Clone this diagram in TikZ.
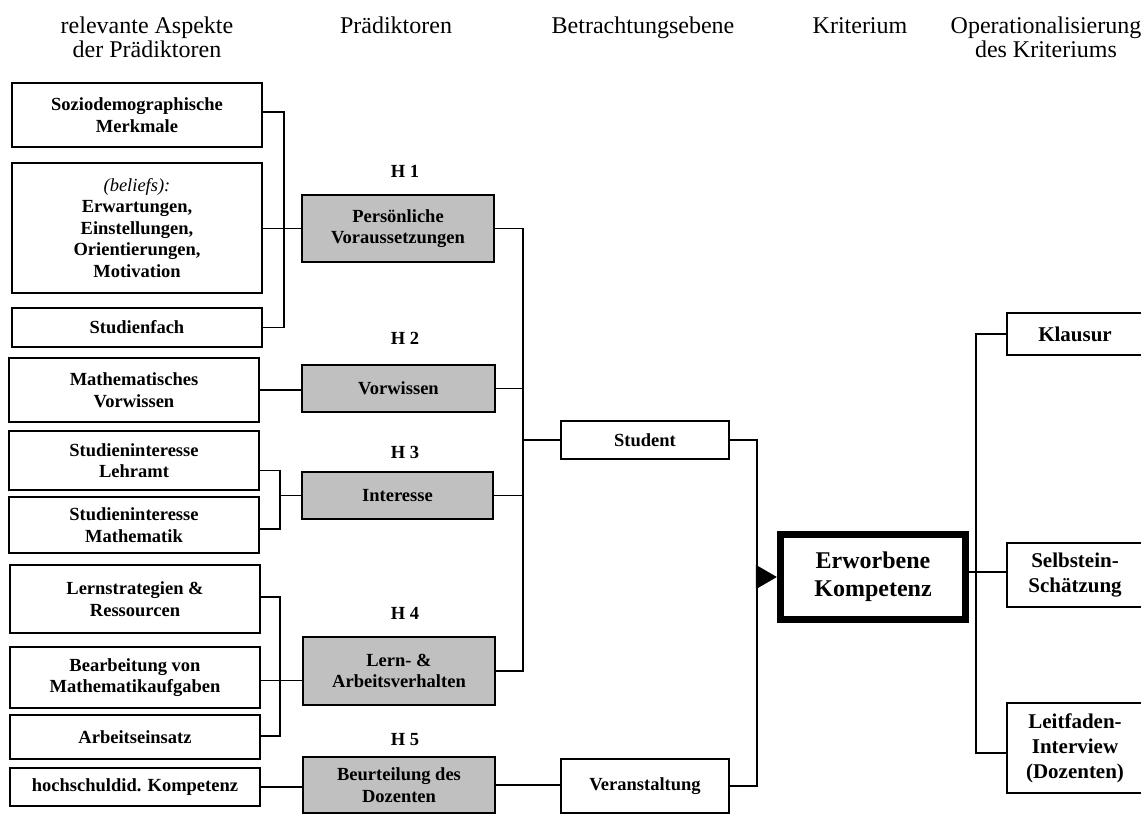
\documentclass[tikz,border=0pt]{standalone}
\usepackage{fontspec}
\setmainfont{Liberation Serif}
\usetikzlibrary{arrows.meta}
\definecolor{boxgray}{RGB}{192,192,192}
\begin{document}
\begin{tikzpicture}[x=1pt,y=-1pt,
  hdr/.style={font=\fontsize{24}{24}\selectfont, align=center, inner sep=0pt},
  abox/.style={draw, line width=2pt, align=center, inner sep=2pt,
    font=\fontsize{18.5}{21.5}\selectfont\bfseries},
  pbox/.style={abox, fill=boxgray},
  rbox/.style={abox, font=\fontsize{21}{25}\selectfont\bfseries},
  hlab/.style={font=\fontsize{18.5}{21}\selectfont\bfseries, inner sep=0pt},
  conn/.style={line width=1.5pt}]
\useasboundingbox (0,0) rectangle (1141,817);

% headers
\node[hdr] (t1) at (147,37) {relevante Aspekte\\der Prädiktoren};
\node[hdr, anchor=base] (t2) at (396,33) {Prädiktoren};
\node[hdr, anchor=base] (t3) at (643,33) {Betrachtungsebene};
\node[hdr, anchor=base] (t4) at (860,33) {Kriterium};
\node[hdr] (t5) at (1046,37) {Operationalisierung\\des Kriteriums};

% left column
\node[abox, minimum width=250, minimum height=64] (soz) at (137,115) {Soziodemographische\\Merkmale};
\node[abox, minimum width=250, minimum height=130] (bel) at (137,228) {{\normalfont\itshape (beliefs):}\\Erwartungen,\\Einstellungen,\\Orientierungen,\\Motivation};
\node[abox, minimum width=250, minimum height=39] (stf) at (137,327.5) {Studienfach};
\node[abox, minimum width=250, minimum height=64] (mvw) at (134,390) {Mathematisches\\Vorwissen};
\node[abox, minimum width=250, minimum height=59] (sil) at (134,460.5) {Studieninteresse\\Lehramt};
\node[abox, minimum width=250, minimum height=56] (sim) at (134,525) {Studieninteresse\\Mathematik};
\node[abox, minimum width=250, minimum height=68] (lrs) at (135,599) {Lernstrategien \&\\Ressourcen};
\node[abox, minimum width=250, minimum height=61] (bma) at (135,677.5) {Bearbeitung von\\Mathematikaufgaben};
\node[abox, minimum width=250, minimum height=44] (aes) at (135,737) {Arbeitseinsatz};
\node[abox, minimum width=250, minimum height=38] (hsk) at (135,787) {hochschuldid. Kompetenz};

% predictors
\node[hlab] (l1) at (405,171) {H 1};
\node[pbox, minimum width=192, minimum height=67] (pv) at (398,228.5) {Persönliche\\Voraussetzungen};
\node[hlab] (l2) at (405,338) {H 2};
\node[pbox, minimum width=193, minimum height=47] (vw) at (398.5,388.5) {Vorwissen};
\node[hlab] (l3) at (405,452) {H 3};
\node[pbox, minimum width=191, minimum height=47] (int) at (397.5,495.5) {Interesse};
\node[hlab] (l4) at (405,613) {H 4};
\node[pbox, minimum width=192, minimum height=68] (law) at (399,671) {Lern- \&\\Arbeitsverhalten};
\node[hlab] (l5) at (405,740) {H 5};
\node[pbox, minimum width=192, minimum height=56] (bdz) at (399,785) {Beurteilung des\\Dozenten};

% level
\node[abox, minimum width=168, minimum height=38] (std) at (645,440) {Student};
\node[abox, minimum width=168, minimum height=54] (ver) at (645,786) {Veranstaltung};

% criterion
\node[draw, line width=7.3pt, minimum width=185, minimum height=85, align=center,
  font=\fontsize{24}{28}\selectfont\bfseries] (erw) at (873,577) {Erworbene\\Kompetenz};

% operationalisation
\node[rbox, minimum width=136, minimum height=42] (kla) at (1075,334) {Klausur};
\node[rbox, minimum width=136, minimum height=64] (sel) at (1075,575) {Selbstein-\\Schätzung};
\node[rbox, minimum width=136, minimum height=90] (lei) at (1075,748) {Leitfaden-\\Interview\\(Dozenten)};

% connectors left
\draw[conn] ([yshift=3]soz.east) -- ++(21,0) |- (stf.east);
\draw[conn] (bel.east |- pv.west) -- (pv.west);
\draw[conn] (mvw.east) -- (mvw.east -| vw.west);
\draw[conn] ([yshift=-10]sil.east) -- ++(20,0) |- ([yshift=-4]sim.east);
\draw[conn] (sil.east -| 279,0) ++(0,35) -- (int.west);
\draw[conn] ([yshift=2]lrs.east) -- ++(19,0) |- ([yshift=1]aes.east);
\draw[conn] ([yshift=-3]bma.east) -- ([yshift=-3]bma.east -| law.west);
\draw[conn] (hsk.east) -- (hsk.east -| bdz.west);

% predictors to level
\coordinate (bus) at (523,0);
\draw[conn] (pv.east) -| (bus |- law.east) -- (law.east);
\draw[conn] (vw.east) -- (vw.east -| bus);
\draw[conn] (int.east) -- (int.east -| bus);
\draw[conn] (std.west -| bus) -- (std.west);
\draw[conn] (bdz.east) -- (bdz.east -| ver.west);

% level to criterion
\coordinate (bus2) at (757,0);
\draw[conn] (std.east) -| (bus2 |- ver.east) -- (ver.east);
\draw[conn, -{Triangle[length=21pt,width=24pt]}] (bus2 |- erw.west) -- (erw.west);

% criterion to operationalisation
\coordinate (bus3) at (976,0);
\draw[conn] (kla.west) -| ([yshift=-5]bus3 |- lei.west) -- ([yshift=-5]lei.west);
\draw[conn] ([yshift=5]erw.east) -- ([yshift=5]erw.east -| sel.west);
\end{tikzpicture}
\end{document}
